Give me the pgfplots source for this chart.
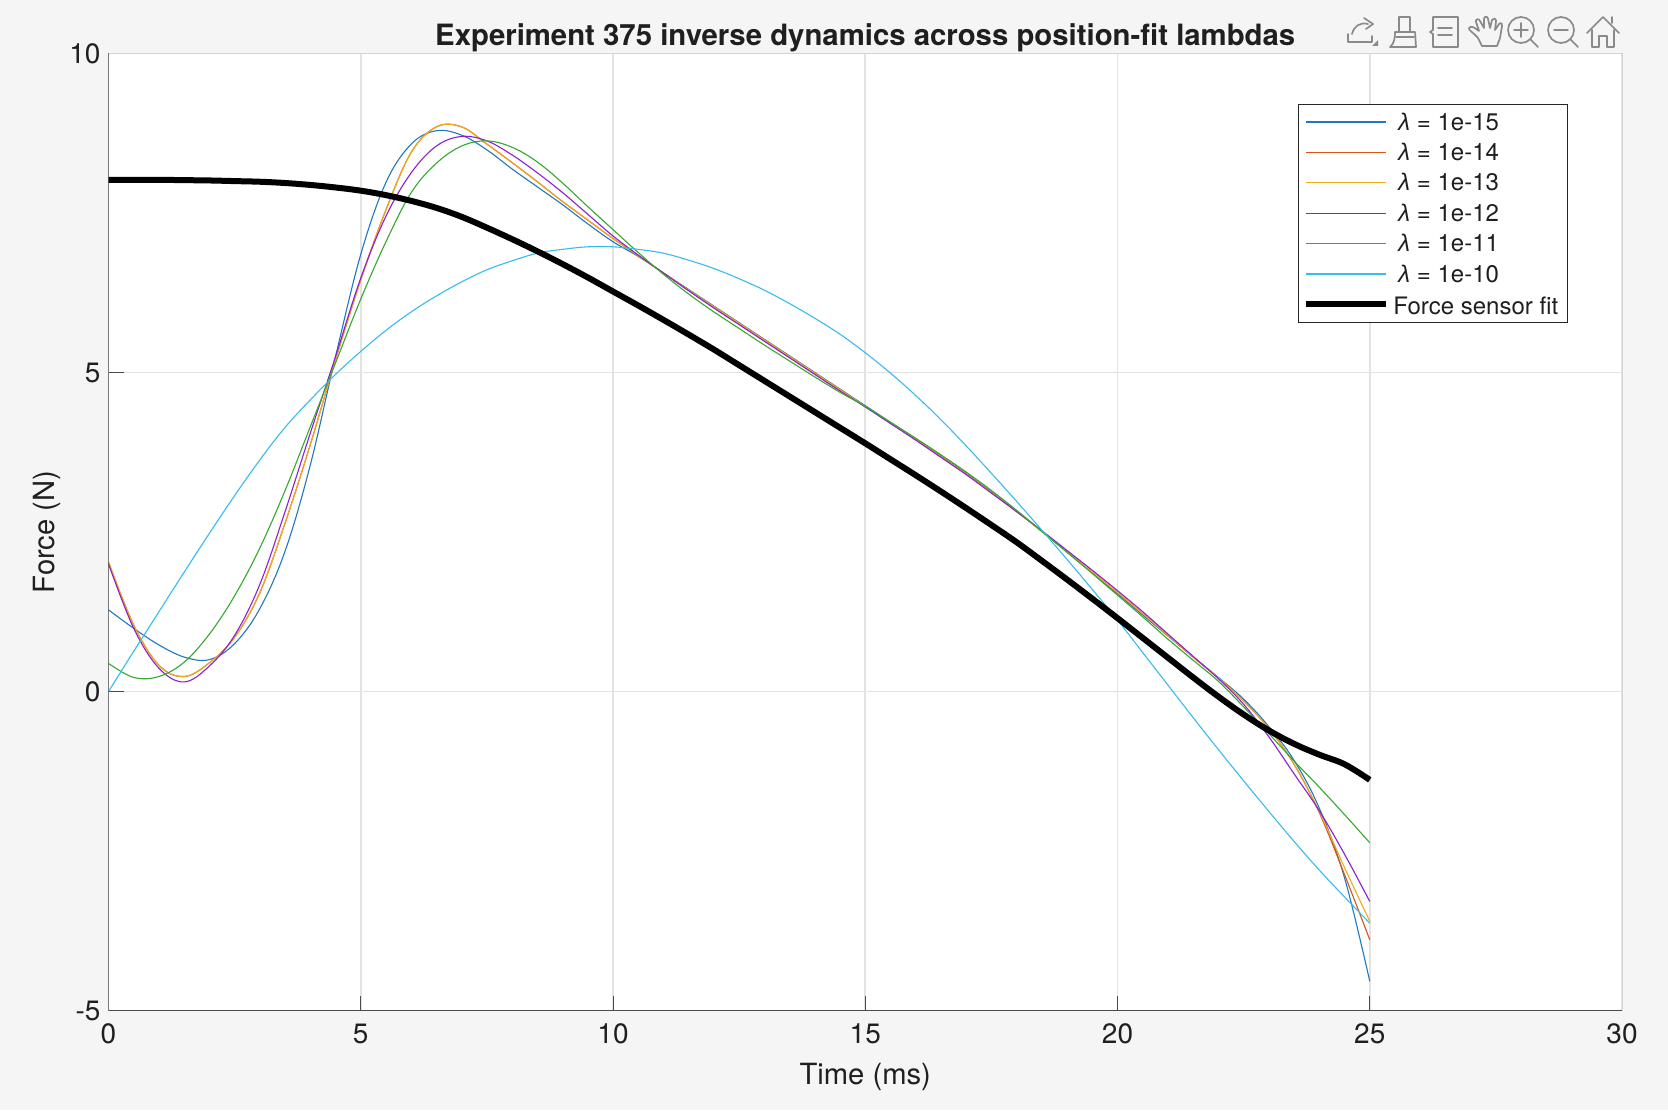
\documentclass[border=0pt]{standalone}
\usepackage{fontspec}
\setmainfont{TeX Gyre Heros}
\newfontfamily\lamfont{Liberation Sans}
\newcommand{\lam}{\hspace{2.5pt}{\lamfont\itshape λ}}
\usepackage{pgfplots}
\pgfplotsset{compat=1.18}
\definecolor{bgc}{HTML}{F5F5F5}
\definecolor{c1}{HTML}{1F78C1}
\definecolor{c2}{HTML}{D95319}
\definecolor{c3}{HTML}{F0A91E}
\definecolor{c4}{HTML}{8B1FD6}
\definecolor{c5}{HTML}{36A82E}
\definecolor{c6}{HTML}{35BDF0}
\definecolor{axc}{HTML}{4A4A4A}
\definecolor{edgec}{HTML}{D4D4D4}
\definecolor{gridc}{HTML}{E3E3E3}
\definecolor{icon}{HTML}{8A8A8A}
\pgfplotstableread{
t    a     b     c     d     e     f     g
0    1.28  2.03  2.03  2.00  0.44  0.00  8.02
0.5  0.99  1.04  1.04  0.99  0.22  0.63  8.02
1    0.73  0.41  0.41  0.365 0.235 1.25  8.02
1.5  0.54  0.235 0.235 0.15  0.46  1.87  8.015
2    0.50  0.45  0.45  0.40  0.90  2.48  8.01
2.5  0.75  0.85  0.85  0.88  1.50  3.07  8.00
3    1.30  1.55  1.55  1.68  2.25  3.63  7.99
3.5  2.20  2.64  2.64  2.82  3.15  4.14  7.97
4    3.55  3.87  3.87  4.05  4.15  4.57  7.94
4.5  5.25  5.20  5.20  5.25  5.15  4.97  7.90
5    6.85  6.45  6.45  6.48  6.15  5.33  7.85
5.5  7.98  7.55  7.55  7.45  7.05  5.66  7.78
6    8.58  8.45  8.45  8.13  7.82  5.95  7.69
6.5  8.79  8.85  8.85  8.55  8.28  6.20  7.58
7    8.72  8.85  8.85  8.70  8.55  6.42  7.44
7.5  8.49  8.58  8.58  8.63  8.63  6.61  7.27
8    8.19  8.29  8.29  8.41  8.53  6.75  7.09
8.5  7.91  7.99  7.99  8.13  8.30  6.87  6.90
9    7.63  7.68  7.68  7.82  7.97  6.93  6.70
9.5  7.33  7.39  7.39  7.48  7.60  6.97  6.49
10   7.05  7.10  7.10  7.14  7.24  6.97  6.27
10.5 6.82  6.83  6.83  6.84  6.88  6.93  6.05
11   6.56  6.56  6.56  6.56  6.54  6.87  5.825
11.5 6.30  6.29  6.29  6.28  6.23  6.76  5.595
12   6.04  6.03  6.03  6.01  5.95  6.63  5.36
12.5 5.78  5.77  5.77  5.75  5.69  6.47  5.115
13   5.52  5.51  5.51  5.49  5.43  6.29  4.87
13.5 5.26  5.25  5.25  5.23  5.18  6.08  4.625
14   5.00  4.99  4.99  4.97  4.93  5.85  4.38
14.5 4.74  4.73  4.73  4.71  4.69  5.60  4.135
15   4.48  4.47  4.47  4.46  4.47  5.31  3.89
15.5 4.22  4.21  4.21  4.20  4.22  4.99  3.64
16   3.96  3.95  3.95  3.94  3.97  4.64  3.39
16.5 3.69  3.68  3.68  3.67  3.71  4.26  3.135
17   3.42  3.41  3.41  3.40  3.44  3.85  2.875
17.5 3.13  3.12  3.12  3.11  3.15  3.42  2.61
18   2.83  2.82  2.82  2.82  2.84  2.98  2.34
18.5 2.51  2.51  2.51  2.52  2.51  2.53  2.05
19   2.19  2.19  2.19  2.21  2.18  2.07  1.755
19.5 1.86  1.87  1.87  1.90  1.85  1.60  1.455
20   1.53  1.55  1.55  1.58  1.51  1.12  1.15
20.5 1.20  1.22  1.22  1.25  1.17  0.61  0.84
21   0.87  0.88  0.88  0.90  0.82  0.10  0.53
21.5 0.54  0.54  0.54  0.55  0.49 -0.41  0.22
22   0.22  0.21  0.21  0.20  0.16 -0.91 -0.08
22.5 -0.12 -0.15 -0.15 -0.20 -0.24 -1.40 -0.36
23   -0.55 -0.58 -0.58 -0.71 -0.66 -1.88 -0.61
23.5 -1.08 -1.14 -1.14 -1.29 -1.09 -2.35 -0.82
24   -1.83 -1.90 -1.88 -1.87 -1.50 -2.80 -0.99
24.5 -2.92 -2.87 -2.76 -2.55 -1.93 -3.22 -1.14
25   -4.54 -3.89 -3.60 -3.29 -2.37 -3.63 -1.385
}\data
\begin{document}
\begin{tikzpicture}
\begin{scope}[shift={(0,555pt)},x=.5pt,y=-.5pt]
\path[use as bounding box,fill=bgc] (0,0) rectangle (1668,1110);
\end{scope}
\begin{axis}[
  at={(54.25pt,49.75pt)},anchor=south west,
  scale only axis,width=756.75pt,height=478.5pt,
  xmin=0,xmax=30,ymin=-5,ymax=10,
  xtick={0,5,...,30},ytick={-5,0,5,10},
  xtick pos=bottom,ytick pos=left,
  tick align=inside,
  major tick length=7.5pt,
  tick style={axc,line width=.5pt},
  axis line style={edgec,line width=.5pt},
  grid=major,
  major grid style={gridc,line width=.8pt},
  axis background/.style={fill=white},
  /pgf/number format/assume math mode=true,
  tick label style={font=\fontsize{14}{16}\selectfont,text=black!88},
  xticklabel style={yshift=-3pt},
  yticklabel style={xshift=-0.5pt},
  label style={font=\fontsize{14.6}{17}\selectfont,text=black!88},
  xlabel={Time (ms)},
  ylabel={Force (N)},
  xlabel style={at={(rel axis cs:0.5,0)},anchor=center,yshift=-33pt},
  ylabel style={at={(rel axis cs:0,0.5)},anchor=center,rotate=0,yshift=31pt},
  title={\bfseries Experiment 375 inverse dynamics across position-fit lambdas},
  title style={font=\fontsize{14.67}{17}\selectfont,text=black!88,at={(rel axis cs:0.5,1)},anchor=base,yshift=-1.85pt},
  legend cell align=left,
  legend style={at={(axis cs:23.58,9.21)},anchor=north west,draw=black!85,line width=.5pt,
    font=\fontsize{12}{14}\selectfont,text=black!88,
    inner xsep=2.4pt,inner ysep=1.2pt,row sep=0pt,fill=white,
    nodes={inner ysep=0pt,inner xsep=2pt,text height=11.6pt,text depth=3.6pt}},
  legend image code/.code={\draw[#1,line cap=butt] (0pt,0pt)--(40pt,0pt);},
  every axis plot/.append style={no markers,smooth,tension=0.6,line width=.55pt},
]
\addplot[c1] table[x=t,y=a] {\data};
\addlegendentry{\lam{} = 1e-15}
\addplot[c2] table[x=t,y=b] {\data};
\addlegendentry{\lam{} = 1e-14}
\addplot[c3] table[x=t,y=c] {\data};
\addlegendentry{\lam{} = 1e-13}
\addplot[c4] table[x=t,y=d] {\data};
\addlegendentry{\lam{} = 1e-12}
\addplot[c5] table[x=t,y=e] {\data};
\addlegendentry{\lam{} = 1e-11}
\addplot[c6] table[x=t,y=f] {\data};
\addlegendentry{\lam{} = 1e-10}
\addplot[black,line width=3pt] table[x=t,y=g] {\data};
\addlegendentry{\raisebox{-1pt}{Force sensor fit}}
\draw[axc,line width=.6pt] (axis cs:0,10)--(axis cs:0,-5)--(axis cs:30,-5);
\end{axis}
% figure toolbar
\begin{scope}[shift={(0,555pt)},x=.5pt,y=-.5pt,draw=icon,line width=.85pt,line cap=round,line join=round]
 % export
 \draw (1348,34)--(1348,42)--(1372,42)--(1372,36);
 \draw (1352,34) .. controls (1354,26) and (1360,22) .. (1368,24);
 \draw (1364,18)--(1373,24)--(1366,29);
 \fill[icon] (1378,46)--(1378,40)--(1372,46)--cycle;
 % brush
 \draw (1390,47) .. controls (1394,44) and (1395,38) .. (1395,32)--(1415,32)--(1416,47)--cycle;
 \draw (1399,32)--(1399,17)--(1410,17)--(1410,32);
 \draw (1396,37)--(1414,37);
 % data tip
 \draw (1433,17)--(1458,17)--(1458,47)--(1433,47)--(1433,34)--(1430,32)--(1433,30)--cycle;
 \draw (1438,28)--(1452,28) (1438,35)--(1452,35);
 % hand
 \draw (1482,46)--(1478,38) .. controls (1474,33) and (1468,30) .. (1469,28) .. controls (1471,25) and (1475,28) .. (1479,31)--(1476,22) .. controls (1475,19) and (1479,18) .. (1480,21)--(1484,28)--(1484,19) .. controls (1484,16) and (1488,16) .. (1488,19)--(1490,28)--(1492,20) .. controls (1493,18) and (1496,18) .. (1496,21)--(1495,30)--(1499,24) .. controls (1501,22) and (1503,24) .. (1502,26)--(1500,38)--(1497,46)--cycle;
 % zoom in
 \draw (1521,30) circle[radius=13];
 \draw (1530,39)--(1538,47);
 \draw (1514,30)--(1528,30) (1521,23)--(1521,37);
 % zoom out
 \draw (1561,30) circle[radius=13];
 \draw (1570,39)--(1578,47);
 \draw (1554,30)--(1568,30);
 % home
 \draw (1587,33)--(1603,17)--(1619,33);
 \draw (1592,30)--(1592,47)--(1599,47)--(1599,36)--(1607,36)--(1607,47)--(1614,47)--(1614,30);
 \draw (1612,17)--(1612,23);
\end{scope}
\end{tikzpicture}
\end{document}
